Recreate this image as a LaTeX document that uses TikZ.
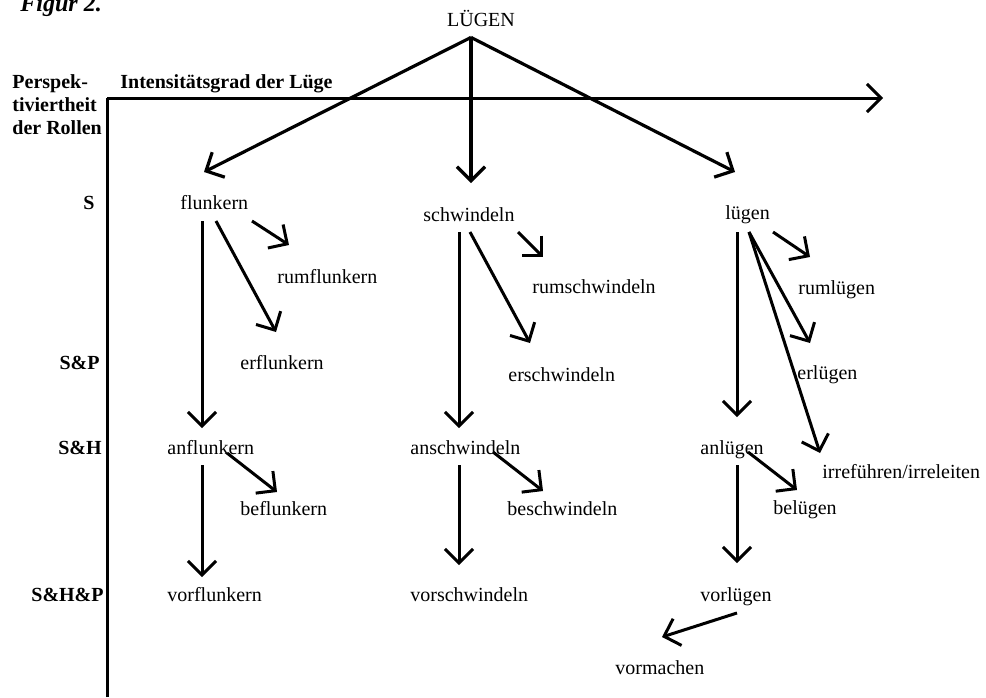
\documentclass[tikz,border=0pt]{standalone}
\usepackage{fontspec}
\setmainfont{Liberation Serif}
\usepackage{tikz}
\usetikzlibrary{calc,arrows.meta}

\begin{document}
\begin{tikzpicture}[x=0.5pt,y=-0.5pt,
	wort/.style={inner sep=0pt, text height=8pt, text depth=2pt, anchor=west, font=\fontsize{10}{12}\selectfont},
	achse/.style={wort, font=\fontsize{10}{12}\selectfont\bfseries},
	pfeil/.style={black, line width=1.5pt, -{Straight Barb[length=7pt,width=14pt]}}]
	\useasboundingbox (0,0) rectangle (986,697);
	\node[anchor=base west, inner sep=0pt, font=\fontsize{12}{14}\selectfont\bfseries\itshape] (figur) at (20,11) {Figur 2.};
	\node[wort, anchor=center] (lg) at (481,20) {LÜGEN};
	\node[achse] (persp1) at (12,82) {Perspek-};
	\node[achse] (persp2) at (12,105) {tiviertheit};
	\node[achse] (persp3) at (12,128) {der Rollen};
	\node[achse] (intens) at (120,82) {Intensitätsgrad der Lüge};
	\node[achse, anchor=east] (rS) at (95,203) {S};
	\node[achse, anchor=east] (rSP) at (100,363) {S\&P};
	\node[achse, anchor=east] (rSH) at (102,448) {S\&H};
	\node[achse, anchor=east] (rSHP) at (104,595) {S\&H\&P};
	\coordinate (origin) at (107,98);
	\coordinate (xend) at (883,98);
	\coordinate (yend) at (107,697);
	\draw [black, line width=1.5pt] (yend) to (origin);
	\draw [pfeil] (origin) to (xend);
	\node[wort] (flunkern) at (180,203) {flunkern};
	\node[wort] (rumflunkern) at (277,277) {rumflunkern};
	\node[wort] (erflunkern) at (240,363) {erflunkern};
	\node[wort] (anflunkern) at (167,448) {anflunkern};
	\node[wort] (beflunkern) at (240,509) {beflunkern};
	\node[wort] (vorflunkern) at (167,595) {vorflunkern};
	\node[wort] (schwindeln) at (423,215) {schwindeln};
	\node[wort] (rumschwindeln) at (532,287) {rumschwindeln};
	\node[wort] (erschwindeln) at (508,375) {erschwindeln};
	\node[wort] (anschwindeln) at (410,448) {anschwindeln};
	\node[wort] (beschwindeln) at (507,509) {beschwindeln};
	\node[wort] (vorschwindeln) at (410,595) {vorschwindeln};
	\node[wort] (luegen) at (725,213) {lügen};
	\node[wort] (rumluegen) at (798,288) {rumlügen};
	\node[wort] (erluegen) at (797,373) {erlügen};
	\node[wort] (anluegen) at (700,448) {anlügen};
	\node[wort] (irre) at (822,472) {irreführen/irreleiten};
	\node[wort] (beluegen) at (773,508) {belügen};
	\node[wort] (vorluegen) at (700,595) {vorlügen};
	\node[wort] (vormachen) at (615,668) {vormachen};
	\coordinate (apex) at ($(lg.south)+(-10,7)$);
	\draw [pfeil, line width=1.6pt] (apex) to ($(flunkern.west)+(24,-31)$);
	\draw [pfeil, line width=1.6pt] (apex) to ($(schwindeln.west)+(48,-32)$);
	\draw [pfeil, line width=1.6pt] (apex) to ($(luegen.west)+(10,-41)$);
	\draw [pfeil] ($(flunkern.west)+(22,18)$) to ($(anflunkern.west)+(35,-20)$);
	\draw [pfeil] ($(flunkern.west)+(36,18)$) to ($(erflunkern.west)+(36,-31)$);
	\draw [pfeil] ($(flunkern.west)+(72,18)$) to ($(rumflunkern.west)+(12,-32)$);
	\draw [pfeil] ($(anflunkern.west)+(35,17)$) to ($(vorflunkern.west)+(35,-18)$);
	\draw [pfeil] ($(anflunkern.west)+(60,5)$) to ($(beflunkern.west)+(37,-17)$);
	\draw [pfeil] ($(schwindeln.west)+(36,17)$) to ($(anschwindeln.west)+(49,-20)$);
	\draw [pfeil] ($(schwindeln.west)+(47,17)$) to ($(erschwindeln.west)+(22,-32)$);
	\draw [pfeil] ($(schwindeln.west)+(95,17)$) to ($(rumschwindeln.west)+(11,-30)$);
	\draw [pfeil] ($(anschwindeln.west)+(49,17)$) to ($(vorschwindeln.west)+(49,-30)$);
	\draw [pfeil] ($(anschwindeln.west)+(83,4)$) to ($(beschwindeln.west)+(36,-18)$);
	\draw [pfeil] ($(luegen.west)+(12,19)$) to ($(anluegen.west)+(37,-31)$);
	\draw [pfeil] ($(luegen.west)+(24,19)$) to ($(erluegen.west)+(13,-30)$);
	\draw [pfeil] ($(luegen.west)+(24,19)$) to ($(irre.west)+(-2,-19)$);
	\draw [pfeil] ($(luegen.west)+(48,19)$) to ($(rumluegen.west)+(12,-31)$);
	\draw [pfeil] ($(anluegen.west)+(37,17)$) to ($(vorluegen.west)+(37,-32)$);
	\draw [pfeil] ($(anluegen.west)+(48,4)$) to ($(beluegen.west)+(24,-18)$);
	\draw [pfeil] ($(vorluegen.west)+(37,18)$) to ($(vormachen.west)+(47,-31)$);
\end{tikzpicture}
\end{document}
